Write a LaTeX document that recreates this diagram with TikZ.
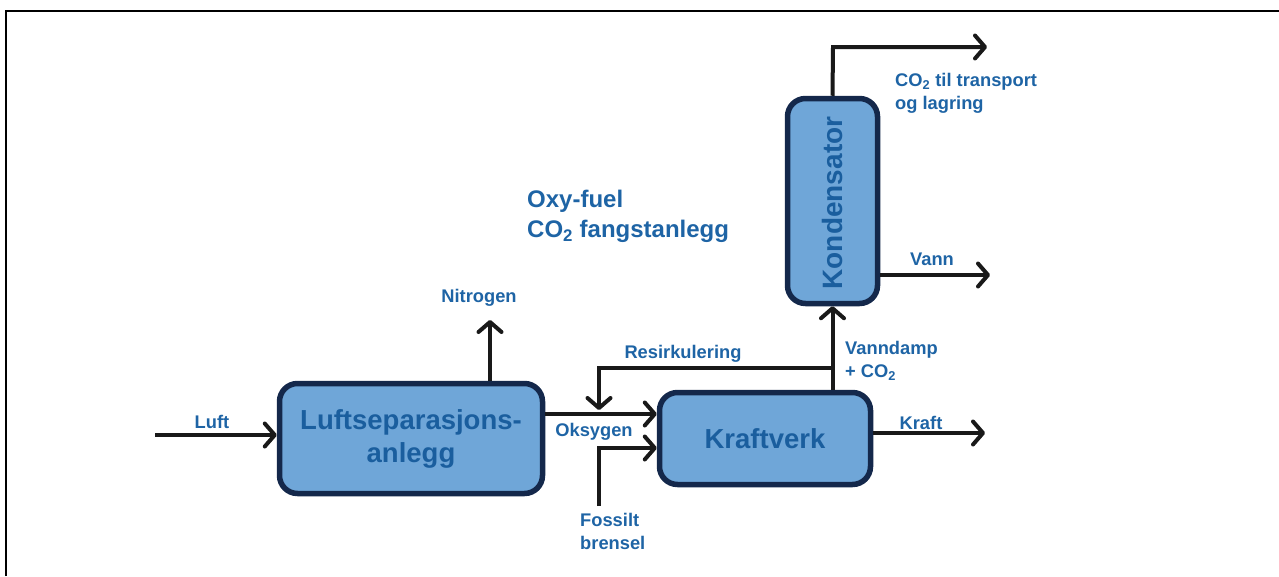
\documentclass[tikz,border=0pt]{standalone}
\usepackage{fontspec}
\setmainfont{Liberation Sans}
\usetikzlibrary{arrows.meta}
\definecolor{boxfill}{RGB}{111,166,216}
\definecolor{boxline}{RGB}{20,40,75}
\definecolor{txtblue}{RGB}{30,100,165}
\definecolor{boxtxt}{RGB}{26,94,158}
\tikzset{
  unit box/.style={draw=boxline, line width=5.5pt, fill=boxfill, rounded corners=18pt,
    inner sep=0pt, text=boxtxt, font=\fontsize{27.5}{33}\selectfont\bfseries, align=center},
  flow/.style={line width=4pt, draw=black!90, -{Straight Barb[length=10pt,width=23pt,line cap=round,line join=round]}},
  lbl/.style={text=txtblue, font=\fontsize{18.3}{23}\selectfont\bfseries, inner sep=0pt},
  title lbl/.style={text=txtblue, font=\fontsize{24}{30}\selectfont\bfseries, inner sep=0pt, align=left}
}
\begin{document}
\begin{tikzpicture}[x=1pt,y=-1pt]
\useasboundingbox (0,0) rectangle (1279,576);
% frame
\draw[line width=2.8pt] (6,576) -- (6,11) -- (1279,11);

% boxes
\node[unit box, minimum width=263pt, minimum height=110pt] (lsa) at (411,438.5) {Luftseparasjons-\\anlegg};
\node[unit box, minimum width=211pt, minimum height=92pt] (kv) at (765,438.5) {Kraftverk};
\node[unit box, minimum width=90pt, minimum height=205pt] (kond) at (832.5,201) {};
\node[text=boxtxt, font=\fontsize{28}{30}\selectfont\bfseries, rotate=90, inner sep=0pt] (kondtxt) at (832.5,203) {Kondensator};

% coordinates
\coordinate (luftin) at (155,435);
\coordinate (ntop) at (490,320);
\coordinate (oks) at (599,414);
\coordinate (fossin) at (599,506);
\coordinate (fossbend) at (599,448);
\coordinate (rc) at (833,368);
\coordinate (rcbend) at (599,368);
\coordinate (rcend) at (599,410);
\coordinate (kraftout) at (985,433);
\coordinate (vannout) at (990,275);
\coordinate (co2bend) at (833,47);
\coordinate (co2out) at (987,47);

% connectors
\draw[flow] (luftin) -- (luftin -| lsa.west);
\draw[flow] (ntop |- lsa.north) -- (ntop);
\draw[flow] (oks -| lsa.east) -- (oks -| kv.west);
\draw[flow] (fossin) -- (fossbend) -- (fossbend -| kv.west);
\draw[flow] (kv.north -| kond.south) -- (kond.south);
\draw[flow] (rc) -- (rcbend) -- (rcend);
\draw[flow] (kraftout -| kv.east) -- (kraftout);
\draw[flow] (vannout -| kond.east) -- (vannout);
\draw[flow] (kond.north) -- (co2bend) -- (co2out);

% labels
\node[lbl, anchor=base] (luftlbl) at (212,428) {Luft};
\node[lbl, anchor=base] (nitlbl) at (479,302) {Nitrogen};
\node[lbl, anchor=base] (okslbl) at (594,436) {Oksygen};
\node[lbl, anchor=base] (reslbl) at (683,358) {Resirkulering};
\node[lbl, anchor=base] (kraftlbl) at (921,429) {Kraft};
\node[lbl, anchor=base] (vannlbl) at (932,265) {Vann};
\node[lbl, anchor=north west, align=left] (vdlbl) at (845,341) {Vanndamp\\+ CO\textsubscript{2}};
\node[lbl, anchor=north west, align=left] (foslbl) at (580,513) {Fossilt\\brensel};
\node[lbl, anchor=north west, align=left] (co2lbl) at (895,73) {CO\textsubscript{2} til transport\\og lagring};
\node[title lbl, anchor=north west] (title) at (527,190) {Oxy-fuel\\CO\textsubscript{2} fangstanlegg};
\end{tikzpicture}
\end{document}
